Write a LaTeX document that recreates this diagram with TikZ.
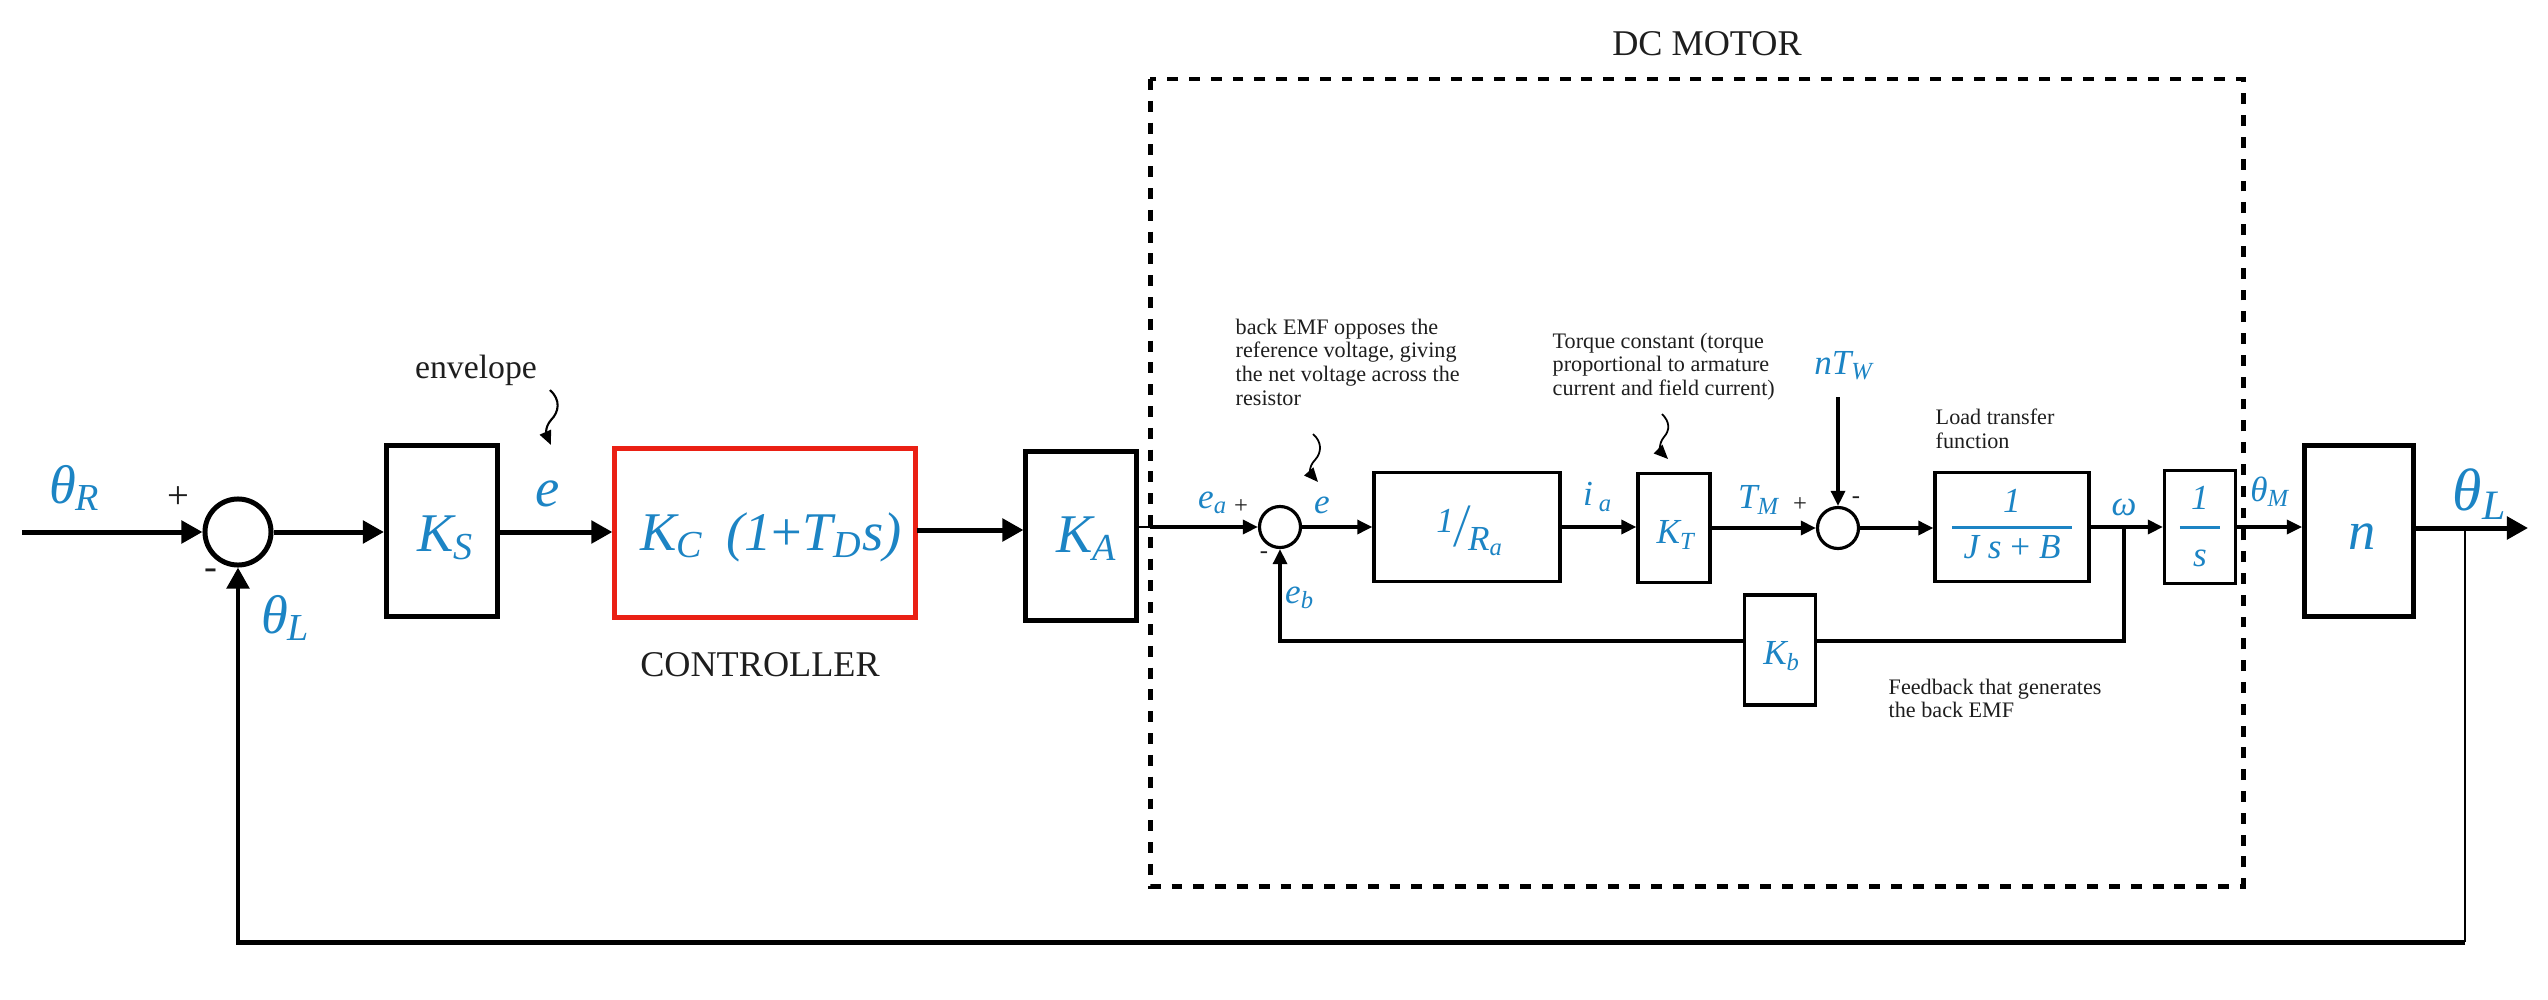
\documentclass[tikz,border=0pt]{standalone}
\usepackage{fontspec}
\setmainfont{Liberation Serif}
\usepackage{graphicx}
\usetikzlibrary{arrows.meta,calc}
\definecolor{sigblue}{RGB}{28,132,196}
\definecolor{ctrlred}{RGB}{234,32,20}
\definecolor{notegray}{RGB}{30,30,30}
\newcommand{\vfrac}[4]{{\renewcommand{\arraystretch}{#4}\setlength{\arrayrulewidth}{0.85pt}\begin{tabular}{@{}c@{}}\makebox[#3]{#1}\\\hline\makebox[#3]{#2}\end{tabular}}}
\begin{document}
\begin{tikzpicture}[x=0.01cm,y=-0.01cm,
  thickline/.style={line width=1.42pt},
  motorline/.style={line width=0.9pt},
  thinline/.style={line width=0.6pt},
  bigtip/.style={-{Triangle[length=6pt,width=6.3pt]}},
  smalltip/.style={-{Triangle[length=4.3pt,width=4pt]}},
  wiggletip/.style={-{Triangle[length=4pt,width=3.4pt]}},
  bigbox/.style={draw,line width=1.42pt,inner sep=0pt},
  motorbox/.style={draw,line width=0.9pt,inner sep=0pt},
  bigsum/.style={draw,circle,line width=1.42pt,minimum size=0.66cm,inner sep=0pt},
  smallsum/.style={draw,circle,line width=0.9pt,minimum size=0.41cm,inner sep=0pt},
  biglbl/.style={text=sigblue,font=\fontsize{15.5}{18}\selectfont\itshape,inner sep=0pt},
  midlbl/.style={text=sigblue,font=\fontsize{10}{12}\selectfont\itshape,inner sep=0pt},
  note/.style={text=notegray,font=\fontsize{6.3}{6.8}\selectfont,align=left,inner sep=0pt,anchor=north west},
  caption/.style={text=notegray,font=\fontsize{10.3}{12}\selectfont,inner sep=0pt},
  bigsign/.style={text=notegray,font=\fontsize{11}{12}\selectfont,inner sep=0pt},
  smallsign/.style={text=notegray,font=\fontsize{7}{8}\selectfont,inner sep=0pt},
  motorframe/.style={line width=1.42pt,dash pattern=on 3.1pt off 3.1pt}
]
\useasboundingbox (0,0) rectangle (2548,1000);

% ---------- outer loop blocks ----------
\coordinate (in) at (22,532);
\node[bigsum] (sum1) at (238,532) {};
\node[bigbox,minimum width=1.11cm,minimum height=1.70cm] (Ks) at (442,531) {};
\node[biglbl] (KsT) at (446,538) {K\textsubscript{S}};
\node[bigbox,draw=ctrlred,minimum width=3.00cm,minimum height=1.68cm] (KC) at (765,533) {};
\node[biglbl] (KCT) at (771,537) {K\textsubscript{C}\, (1\textup{+}T\textsubscript{D}s)};
\node[bigbox,minimum width=1.10cm,minimum height=1.69cm] (KA) at (1081,536) {};
\node[biglbl] (KAT) at (1087,539) {K\textsubscript{A}};

% ---------- DC motor frame ----------
\draw[motorframe] (1150,79) rectangle (2243,886);
\node[caption] (dcm) at (1707,44) {DC MOTOR};

% ---------- motor blocks ----------
\node[smallsum] (sum2) at (1280,527) {};
\node[motorbox,minimum width=1.86cm,minimum height=1.09cm] (Ra) at (1467,527) {};
\node[midlbl] (RaT) at (1470,531) {\raisebox{1pt}{1}\hspace{0.5pt}\raisebox{-3pt}{\scalebox{1.25}[1.75]{/}}\raisebox{-4pt}{R\textsubscript{a}}};
\node[motorbox,minimum width=0.72cm,minimum height=1.09cm] (KT) at (1674,528) {};
\node[midlbl] (KTT) at (1676,535) {K\textsubscript{T}};
\node[smallsum] (sum3) at (1838,528) {};
\node[motorbox,minimum width=1.54cm,minimum height=1.09cm,text=sigblue,font=\fontsize{10}{12}\selectfont] (Jsb) at (2012,527)
  {\vfrac{\itshape 1}{\itshape J s \upshape+ \itshape B}{34pt}{1}};
\node[motorbox,minimum width=0.71cm,minimum height=1.09cm,text=sigblue,font=\fontsize{10}{12}\selectfont] (integ) at (2200,527)
  {\vfrac{\itshape 1}{\itshape s}{11.4pt}{1.3}};
\node[motorbox,minimum width=0.71cm,minimum height=1.10cm] (Kb) at (1780,650) {};
\node[midlbl] (KbT) at (1782,656) {K\textsubscript{b}};
\node[bigbox,minimum width=1.09cm,minimum height=1.71cm] (n) at (2359,531) {};
\node[biglbl] (nT) at (2362,537) {n};

% ---------- signal labels ----------
\node[biglbl] (thR) at (75,488) {θ\textsubscript{R}};
\node[bigsign] (p1) at (178,498) {+};
\node[bigsign] (m1) at (211,574) {-};
\node[biglbl] (thL1) at (286,618) {θ\textsubscript{L}};
\node[biglbl] (e1) at (548,494) {e};
\node[midlbl] (ea) at (1213,503) {e\textsubscript{a}};
\node[smallsign] (p2) at (1241,507) {+};
\node[smallsign] (m2) at (1264,555) {-};
\node[midlbl] (e2) at (1322,505) {e};
\node[midlbl] (eb) at (1300,598) {e\textsubscript{b}};
\node[midlbl] (ia) at (1598,497) {i\,\textsubscript{a}};
\node[midlbl] (TM) at (1759,500) {T\textsubscript{M}};
\node[smallsign] (p3) at (1800,505) {+};
\node[smallsign] (m3) at (1856,500) {-};
\node[midlbl] (nTW) at (1844,366) {nT\textsubscript{W}};
\node[midlbl] (om) at (2124,507) {ω};
\node[midlbl] (thM) at (2270,492) {θ\textsubscript{M}};
\node[biglbl,font=\fontsize{17}{20}\selectfont\itshape] (thL2) at (2480,494) {θ\textsubscript{L}};

% ---------- notes ----------
\node[caption,font=\fontsize{9.6}{11}\selectfont] (env) at (476,370) {envelope};
\node[caption] (ctl) at (760,665) {CONTROLLER};
\node[note] (n1) at (1235,318) {back EMF opposes the\\reference voltage, giving\\the net voltage across the\\resistor};
\node[note] (n2) at (1552,332) {Torque constant (torque\\proportional to armature\\current and field current)};
\node[note] (n3) at (1935,408) {Load transfer\\function};
\node[note] (n4) at (1888,678) {Feedback that generates\\the back EMF};

% ---------- connectors: outer loop ----------
\draw[thickline,bigtip] (in) -- (sum1.west);
\draw[thickline,bigtip] (sum1.east) -- (sum1.east -| Ks.west);
\coordinate (ksout) at (Ks.east |- sum1);
\draw[thickline,bigtip] (ksout) -- (ksout -| KC.west);
\coordinate (kcout) at (917,530);
\draw[thickline,bigtip] (kcout) -- (kcout -| KA.west);
\coordinate (frameL) at (1150,527);
\draw[thinline] (KA.east |- sum2) -- (frameL);
\draw[motorline,smalltip] (frameL) -- (sum2.west);

% ---------- connectors: motor ----------
\draw[motorline,smalltip] (sum2.east) -- (Ra.west);
\draw[motorline,smalltip] (Ra.east) -- (Ra.east -| KT.west);
\draw[motorline,smalltip] (KT.east |- sum3) -- (sum3.west);
\coordinate (ntwtop) at (1838,397);
\draw[motorline,smalltip] (ntwtop) -- (sum3.north);
\draw[motorline,smalltip] (sum3.east) -- (sum3.east -| Jsb.west);
\coordinate (wnode) at (2124,527);
\draw[motorline,smalltip] (Jsb.east) -- (integ.west);
\coordinate (wdown) at (2124,641);
\draw[motorline] (wnode) -- (wdown) -- (wdown -| Kb.east);
\coordinate (ebcorner) at (1280,641);
\draw[motorline,smalltip] (Kb.west |- wdown) -- (ebcorner) -- (sum2.south);
\draw[motorline,smalltip] (integ.east) -- (integ.east -| n.west);

% ---------- output and main feedback ----------
\coordinate (outend) at (2528,528);
\coordinate (br) at (2465,528);
\coordinate (fbR) at (2465,942);
\coordinate (fbL) at (238,942);
\draw[thickline,bigtip] (n.east |- outend) -- (outend);
\draw[thinline] (br) -- (fbR);
\draw[thickline,bigtip] (fbR) -- (fbL) -- (sum1.south);

% ---------- wiggle pointers ----------
\coordinate (w1a) at (550,390); \coordinate (w1b) at (551,445);
\draw[line width=0.6pt,wiggletip] (w1a) .. controls (561,400) and (559,412) .. (551,420) .. controls (544,428) and (547,436) .. (w1b);
\coordinate (w2a) at (1313,434); \coordinate (w2b) at (1318,482);
\draw[line width=0.5pt,wiggletip] (w2a) .. controls (1322,442) and (1322,452) .. (1315,460) .. controls (1308,467) and (1311,474) .. (w2b);
\coordinate (w3a) at (1662,414); \coordinate (w3b) at (1668,459);
\draw[line width=0.5pt,wiggletip] (w3a) .. controls (1670,422) and (1670,430) .. (1664,437) .. controls (1658,444) and (1661,452) .. (w3b);
\end{tikzpicture}
\end{document}
